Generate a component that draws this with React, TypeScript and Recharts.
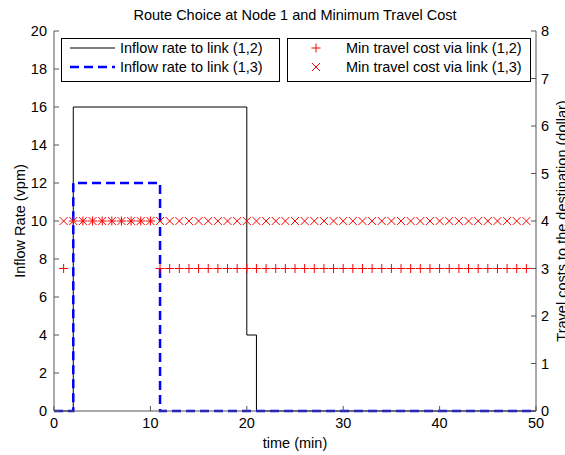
import { ComposedChart, Line, Scatter, XAxis, YAxis } from "recharts";

// inflow rates (vpm), step functions given at their breakpoints (time in min)
const inflow12Times = [0, 2, 20, 21, 50];
const inflow12Values = [0, 16, 4, 0, 0];
const inflow13Times = [0, 2, 11, 50];
const inflow13Values = [0, 12, 0, 0];

// min travel cost (dollar), one marker per minute t = 1..49
const costTimes = [
  1, 2, 3, 4, 5, 6, 7, 8, 9, 10, 11, 12, 13, 14, 15, 16, 17, 18, 19, 20, 21, 22, 23, 24, 25,
  26, 27, 28, 29, 30, 31, 32, 33, 34, 35, 36, 37, 38, 39, 40, 41, 42, 43, 44, 45, 46, 47, 48, 49
];
const costVia12 = [
  3, 4, 4, 4, 4, 4, 4, 4, 4, 4, 3, 3, 3, 3, 3, 3, 3, 3, 3, 3, 3, 3, 3, 3, 3,
  3, 3, 3, 3, 3, 3, 3, 3, 3, 3, 3, 3, 3, 3, 3, 3, 3, 3, 3, 3, 3, 3, 3, 3
];
const costVia13 = [
  4, 4, 4, 4, 4, 4, 4, 4, 4, 4, 4, 4, 4, 4, 4, 4, 4, 4, 4, 4, 4, 4, 4, 4, 4,
  4, 4, 4, 4, 4, 4, 4, 4, 4, 4, 4, 4, 4, 4, 4, 4, 4, 4, 4, 4, 4, 4, 4, 4
];

const xTicks = [0, 10, 20, 30, 40, 50];
const leftTicks = [0, 2, 4, 6, 8, 10, 12, 14, 16, 18, 20];
const rightTicks = [0, 1, 2, 3, 4, 5, 6, 7, 8];

const inflow12Data = inflow12Times.map((t, i) => ({ t, rate: inflow12Values[i] }));
const inflow13Data = inflow13Times.map((t, i) => ({ t, rate: inflow13Values[i] }));
const via12Data = costTimes.map((t, i) => ({ t, cost: costVia12[i] }));
const via13Data = costTimes.map((t, i) => ({ t, cost: costVia13[i] }));

const FONT = "'Liberation Sans', Arial, Helvetica, sans-serif";
const FS = 14.5;
const RED = "#ff0000";
const AXIS = "#555555";
const tickStyle = { fill: "#000", fontSize: FS, fontFamily: FONT };

function PlusMark({ cx, cy }: { cx?: number; cy?: number }) {
  if (cx == null || cy == null) return null;
  return (
    <path d={`M${cx - 4.5},${cy}H${cx + 4.5}M${cx},${cy - 4.5}V${cy + 4.5}`} stroke={RED} strokeWidth={1} fill="none" />
  );
}

function CrossMark({ cx, cy }: { cx?: number; cy?: number }) {
  if (cx == null || cy == null) return null;
  return (
    <path d={`M${cx - 4},${cy - 4}L${cx + 4},${cy + 4}M${cx - 4},${cy + 4}L${cx + 4},${cy - 4}`} stroke={RED} strokeWidth={1} fill="none" />
  );
}

export default function App() {
  return (
    <div style={{ position: "absolute", left: 0, top: 0, width: 565, height: 455, background: "#fff", fontFamily: FONT }}>
      <ComposedChart width={565} height={455} margin={{ top: 31, right: 0, bottom: 0, left: 0 }}>
        <XAxis
          type="number"
          dataKey="t"
          domain={[0, 50]}
          ticks={xTicks}
          allowDuplicatedCategory={false}
          height={44}
          stroke={AXIS}
          tickSize={-5}
          tickMargin={12}
          tick={tickStyle}
        />
        <YAxis
          yAxisId="left"
          type="number"
          domain={[0, 20]}
          ticks={leftTicks}
          width={54}
          stroke={AXIS}
          tickSize={-5}
          tickMargin={12}
          tick={tickStyle}
        />
        <YAxis
          yAxisId="right"
          orientation="right"
          type="number"
          domain={[0, 8]}
          ticks={rightTicks}
          width={29}
          stroke={AXIS}
          tickSize={-5}
          tickMargin={10}
          tick={{ ...tickStyle, textAnchor: "start" }}
        />
        <Line
          yAxisId="left"
          data={inflow12Data}
          dataKey="rate"
          type="stepAfter"
          stroke="#000"
          strokeWidth={1}
          dot={false}
          isAnimationActive={false}
        />
        <Line
          yAxisId="left"
          data={inflow13Data}
          dataKey="rate"
          type="stepAfter"
          stroke="#0000ff"
          strokeWidth={2.5}
          strokeDasharray="9 5"
          dot={false}
          isAnimationActive={false}
        />
        <Scatter yAxisId="right" data={via12Data} dataKey="cost" shape={<PlusMark />} isAnimationActive={false} />
        <Scatter yAxisId="right" data={via13Data} dataKey="cost" shape={<CrossMark />} isAnimationActive={false} />
      </ComposedChart>

      <svg width={565} height={455} style={{ position: "absolute", left: 0, top: 0, pointerEvents: "none" }} fontFamily={FONT}>
        <text x={295} y={20} textAnchor="middle" fontSize={FS}>
          Route Choice at Node 1 and Minimum Travel Cost
        </text>
        <text x={295} y={448} textAnchor="middle" fontSize={FS}>
          time (min)
        </text>
        <text transform="translate(25,221) rotate(-90)" textAnchor="middle" fontSize={FS}>
          Inflow Rate (vpm)
        </text>
        <text transform="translate(567,221) rotate(-90)" textAnchor="middle" fontSize={FS}>
          Travel costs to the destination (dollar)
        </text>

        <rect x={61.5} y={38.5} width={218} height={43} fill="#fff" stroke="#000" />
        <line x1={70} y1={48} x2={115} y2={48} stroke="#000" />
        <line x1={70} y1={67} x2={115} y2={67} stroke="#0000ff" strokeWidth={2.5} strokeDasharray="9 5" />
        <text x={120} y={53} fontSize={FS}>Inflow rate to link (1,2)</text>
        <text x={120} y={72} fontSize={FS}>Inflow rate to link (1,3)</text>

        <rect x={287.5} y={38.5} width={243} height={43} fill="#fff" stroke="#000" />
        <PlusMark cx={316} cy={48} />
        <CrossMark cx={316} cy={67} />
        <text x={346} y={53} fontSize={FS}>Min travel cost via link (1,2)</text>
        <text x={346} y={72} fontSize={FS}>Min travel cost via link (1,3)</text>
      </svg>
    </div>
  );
}
